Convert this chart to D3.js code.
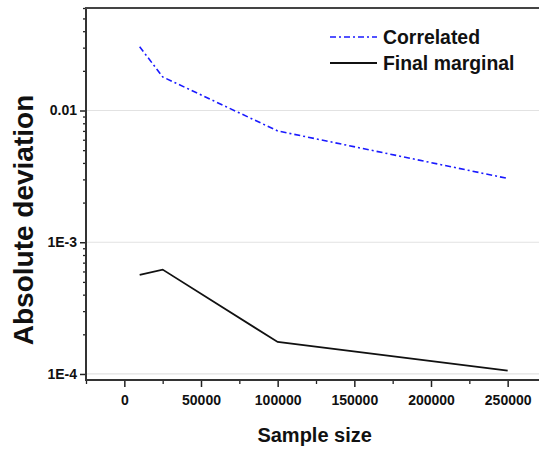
<!DOCTYPE html>
<html>
<head>
<meta charset="utf-8">
<script src="https://cdn.jsdelivr.net/npm/d3@7"></script>
<style>
  body { margin: 0; background: #fff; }
  text { font-family: "Liberation Sans", Arial, sans-serif; font-weight: bold; }
</style>
</head>
<body>
<div id="chart"></div>
<script>
// data
const sampleSizes   = [10000, 25000, 100000, 250000];
const correlated    = [0.0305, 0.018, 0.0070, 0.00305];
const finalMarginal = [0.000565, 0.00062, 0.000175, 0.000106];

const xTicks = [0, 50000, 100000, 150000, 200000, 250000];
const yTicks = [1e-4, 1e-3, 1e-2];
const yTickLabels = ["1E-4", "1E-3", "0.01"];
const seriesNames = ["Correlated", "Final marginal"];

const width = 539, height = 450;
const margin = { top: 8, left: 86, bottom: 70 };
const plotRight = 546; // right frame sits just outside the picture

const svg = d3.select("#chart").append("svg")
    .attr("width", width)
    .attr("height", height);

const x = d3.scaleLinear()
    .domain([-25000, 275000])
    .range([margin.left, plotRight]);

const y = d3.scaleLog()
    .domain([9e-5, 0.06])
    .range([height - margin.bottom, margin.top]);

// grid lines at the decades
svg.append("g")
    .selectAll("line")
    .data(yTicks)
    .enter()
    .append("line")
    .attr("x1", margin.left)
    .attr("x2", plotRight)
    .attr("y1", d => y(d))
    .attr("y2", d => y(d))
    .attr("stroke", "#e2e2e2")
    .attr("stroke-width", 1.2);

// minor ticks
const yMinor = [];
[1e-4, 1e-3, 1e-2].forEach(dec => {
    for (let k = 2; k <= 9; k++) {
        const v = dec * k;
        if (v <= 0.06) yMinor.push(v);
    }
});
const xMinor = d3.range(-25000, 275001, 50000);

svg.append("g")
    .attr("transform", `translate(${margin.left},0)`)
    .call(d3.axisLeft(y).tickValues(yMinor).tickSize(3).tickFormat(""))
    .call(g => g.select(".domain").remove())
    .selectAll("line").attr("stroke", "#222").attr("stroke-width", 1.3);

svg.append("g")
    .attr("transform", `translate(0,${height - margin.bottom})`)
    .call(d3.axisBottom(x).tickValues(xMinor).tickSize(4).tickFormat(""))
    .call(g => g.select(".domain").remove())
    .selectAll("line").attr("stroke", "#222").attr("stroke-width", 1.3);

// major axes
const yAxis = svg.append("g")
    .attr("transform", `translate(${margin.left},0)`)
    .call(d3.axisLeft(y).tickValues(yTicks).tickSize(6).tickPadding(3)
        .tickFormat((d, i) => yTickLabels[i]));
yAxis.select(".domain").remove();
yAxis.selectAll("line").attr("stroke", "#222").attr("stroke-width", 1.5);
yAxis.selectAll("text")
    .attr("font-size", "14px")
    .attr("fill", "#111")
    .attr("font-family", "'Liberation Sans', Arial, sans-serif");

const xAxis = svg.append("g")
    .attr("transform", `translate(0,${height - margin.bottom})`)
    .call(d3.axisBottom(x).tickValues(xTicks).tickSize(7).tickPadding(8)
        .tickFormat(d3.format("d")));
xAxis.select(".domain").remove();
xAxis.selectAll("line").attr("stroke", "#222").attr("stroke-width", 1.5);
xAxis.selectAll("text")
    .attr("font-size", "14px")
    .attr("fill", "#111")
    .attr("font-family", "'Liberation Sans', Arial, sans-serif");

// frame lines
svg.append("line")
    .attr("x1", margin.left).attr("x2", margin.left)
    .attr("y1", margin.top).attr("y2", height - margin.bottom)
    .attr("stroke", "#333").attr("stroke-width", 2);
svg.append("line")
    .attr("x1", margin.left - 1).attr("x2", plotRight)
    .attr("y1", height - margin.bottom).attr("y2", height - margin.bottom)
    .attr("stroke", "#333").attr("stroke-width", 2);
svg.append("line")
    .attr("x1", margin.left - 1).attr("x2", plotRight)
    .attr("y1", margin.top).attr("y2", margin.top)
    .attr("stroke", "#444").attr("stroke-width", 2);

// series
const line = d3.line()
    .x(d => x(d[0]))
    .y(d => y(d[1]));

const series = [
    { name: seriesNames[0], values: d3.zip(sampleSizes, correlated), color: "#1a1aff", dash: "6,3,2,3", w: 1.6 },
    { name: seriesNames[1], values: d3.zip(sampleSizes, finalMarginal), color: "#111", dash: null, w: 1.8 }
];

series.forEach(s => {
    svg.append("path")
        .datum(s.values)
        .attr("fill", "none")
        .attr("stroke", s.color)
        .attr("stroke-width", s.w)
        .attr("stroke-dasharray", s.dash)
        .attr("d", line);
});

// legend
const legend = svg.append("g");
series.forEach((s, i) => {
    const ly = 37 + i * 26;
    legend.append("line")
        .attr("x1", 330).attr("x2", 377)
        .attr("y1", ly).attr("y2", ly)
        .attr("stroke", s.color)
        .attr("stroke-width", s.w)
        .attr("stroke-dasharray", s.dash);
    legend.append("text")
        .attr("x", 383)
        .attr("y", ly)
        .attr("dy", "0.36em")
        .attr("font-size", "19.4px")
        .attr("fill", "#111")
        .text(s.name);
});

// axis titles
svg.append("text")
    .attr("x", x(100000) + 37)
    .attr("y", 442)
    .attr("text-anchor", "middle")
    .attr("font-size", "20px")
    .attr("fill", "#111")
    .text("Sample size");

svg.append("text")
    .attr("transform", `translate(33,220) rotate(-90)`)
    .attr("text-anchor", "middle")
    .attr("font-size", "28px")
    .attr("fill", "#111")
    .text("Absolute deviation");
</script>
</body>
</html>
